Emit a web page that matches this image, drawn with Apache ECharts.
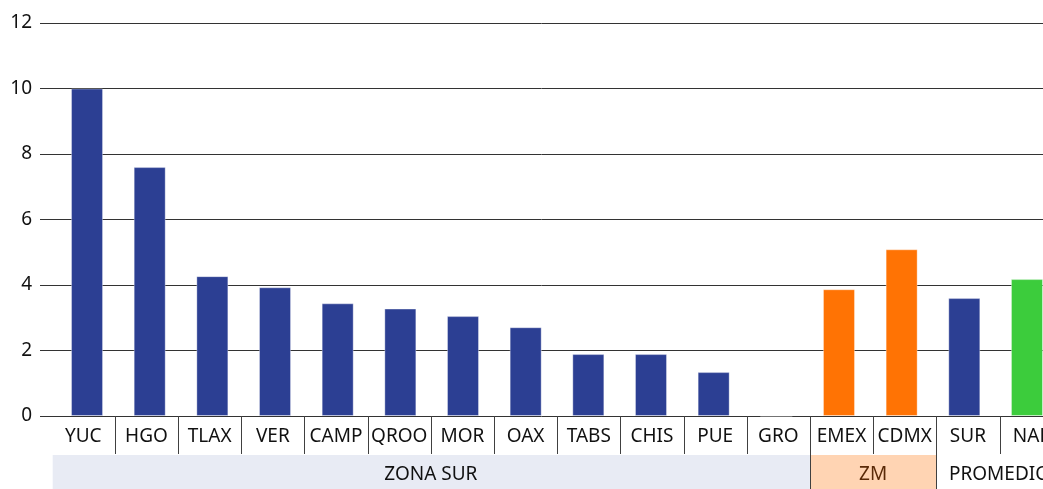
<!DOCTYPE html>
<html>
<head>
<meta charset="utf-8">
<script src="https://cdn.jsdelivr.net/npm/echarts@6/dist/echarts.min.js"></script>
<style>
html,body{margin:0;padding:0;background:#fff;}
#chart{width:1043px;height:489px;}
</style>
</head>
<body>
<div id="chart"></div>
<script>
// ---- data ----
const categories = ['YUC','HGO','TLAX','VER','CAMP','QROO','MOR','OAX','TABS','CHIS','PUE','GRO','EMEX','CDMX','SUR','NAL'];
const values = [10.0, 7.6, 4.27, 3.93, 3.44, 3.28, 3.05, 2.71, 1.89, 1.89, 1.34, 0, 3.87, 5.09, 3.60, 4.18];
const groupNames = ['ZONA SUR', 'ZM', 'PROMEDIO'];
const groupStart = [0, 12, 14];
const groupEnd = [11, 13, 15];
const yMin = 0, yMax = 12, yStep = 2;

// ---- styles ----
const FONT = 'Noto Sans';
const BLUE = '#2c3f93', ORANGE = '#ff7304', GREEN = '#3ccc3c';
const bandFill = ['#e8ebf4', '#ffd4b3', 'rgba(0,0,0,0)'];
const bandText = ['#111111', '#5a2a08', '#111111'];
const LINE = '#404040';

function groupOf(i){
  for (let g = 0; g < groupStart.length; g++) if (i >= groupStart[g] && i <= groupEnd[g]) return g;
  return 0;
}
function colorOf(i){
  if (categories[i] === 'NAL') return GREEN;
  return groupOf(i) === 1 ? ORANGE : BLUE;
}

const chart = echarts.init(document.getElementById('chart'), null, {renderer:'canvas'});
const gridBase = {top:23, bottom:73, containLabel:false, outerBoundsMode:'none'};
const hiddenY = (gi) => ({gridIndex:gi, type:'value', min:yMin, max:yMax, interval:yStep, show:false});

chart.setOption({
  animation:false,
  backgroundColor:'#ffffff',
  textStyle:{fontFamily:FONT},
  grid:[
    Object.assign({left:40, right:0}, gridBase),
    Object.assign({left:51.7, right:-19.7}, gridBase),
    Object.assign({left:55.7, right:-15.3}, gridBase)
  ],
  xAxis:[
    {gridIndex:0, type:'category', data:categories, show:false},
    {gridIndex:1, type:'category', data:categories,
      axisLine:{show:false}, axisTick:{show:false}, splitLine:{show:false},
      axisLabel:{interval:0, fontSize:19, color:'#111', margin:11, fontFamily:FONT}},
    {gridIndex:2, type:'category', data:categories, show:false}
  ],
  yAxis:[
    {gridIndex:0, type:'value', min:yMin, max:yMax, interval:yStep,
      axisLine:{show:false}, axisTick:{show:false},
      axisLabel:{fontSize:19, color:'#111', margin:8, fontFamily:FONT},
      splitLine:{show:true, lineStyle:{color:'#333', width:1}}},
    hiddenY(1),
    hiddenY(2)
  ],
  series:[
    {
      type:'bar', xAxisIndex:2, yAxisIndex:2, barWidth:32,
      data: values.map((v,i)=>({value:v, itemStyle:{color:colorOf(i), borderColor:'rgba(255,255,255,0.35)', borderWidth:1}})),
      silent:true
    },
    {
      type:'custom', xAxisIndex:1, yAxisIndex:1, clip:false, silent:true,
      data: groupStart.map(s => [s, 0]),
      encode:{x:0, y:1},
      renderItem: function(params, api){
        const g = params.dataIndex;
        const s = groupStart[g], e = groupEnd[g];
        const band = api.size([1, 0])[0];
        const p0 = api.coord([s, 0]);
        const p1 = api.coord([e, 0]);
        const x0 = p0[0] - band/2, x1 = p1[0] + band/2;
        const yBase = p0[1];
        const children = [];
        children.push({type:'rect', shape:{x:x0+1, y:yBase+39, width:x1-x0-1, height:40},
          style:{fill:bandFill[g]}});
        children.push({type:'text', style:{text:groupNames[g], x:(x0+x1)/2, y:yBase+59,
          align:'center', verticalAlign:'middle', fill:bandText[g], fontSize:19, fontFamily:FONT}});
        for (let k = s; k <= e; k++){
          if (k === 0) continue;
          const xb = Math.round(api.coord([k, 0])[0] - band/2) + 0.5;
          const len = (k === s) ? 80 : 38;
          children.push({type:'line', shape:{x1:xb, y1:yBase, x2:xb, y2:yBase+len},
            style:{stroke:LINE, lineWidth:1}});
        }
        return {type:'group', children:children};
      }
    }
  ]
});
</script>
</body>
</html>
